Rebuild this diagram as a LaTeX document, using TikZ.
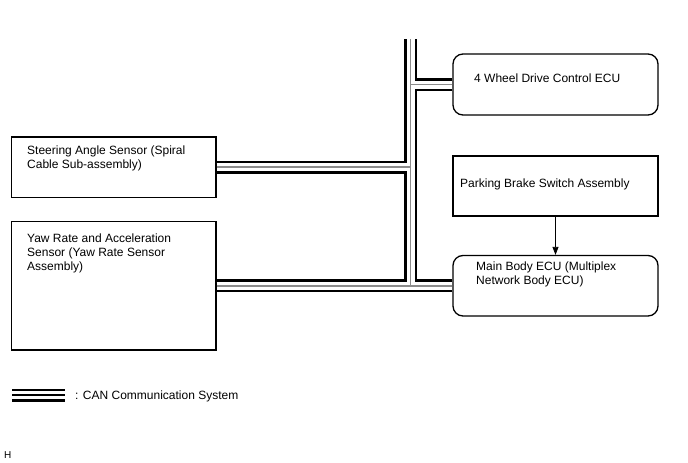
\documentclass[tikz,border=0pt]{standalone}
\usepackage{fontspec}
\setmainfont{Liberation Sans}
\usetikzlibrary{arrows.meta}
\begin{document}
\begin{tikzpicture}[x=1pt,y=-1pt,
  box/.style={draw=black,line width=1.3pt,inner sep=0pt,fill=none},
  rbox/.style={box,rounded corners=10pt},
  lbl/.style={inner sep=0pt,align=left,font=\fontsize{12}{14}\selectfont},
  busA/.style={line width=13pt,black},
  busB/.style={line width=8pt,white},
  busC/.style={line width=1.8pt,gray!90},
  arr/.style={line width=0.8pt,-{Triangle[length=8pt,width=6pt]}}]
\useasboundingbox[fill=white] (0,0) rectangle (688,463);
% boxes
\node[rbox,minimum width=205pt,minimum height=61pt] (fwd) at (555.5,84.5) {};
\node[box,minimum width=204.5pt,minimum height=60.5pt] (steer) at (113.75,167.25) {};
\node[box,minimum width=204.5pt,minimum height=128.5pt] (yaw) at (113.75,285.75) {};
\node[box,minimum width=205pt,minimum height=60pt] (park) at (555.5,186) {};
\node[rbox,minimum width=205pt,minimum height=60.5pt] (mb) at (555.5,285.75) {};
% labels
\node[lbl,anchor=base west] (fwdt) at (474,82.5) {4 Wheel Drive Control ECU};
\node[lbl,anchor=north west] (steert) at (27,145.5) {Steering Angle Sensor (Spiral\\Cable Sub-assembly)};
\node[lbl,anchor=north west] (yawt) at (27,233.5) {Yaw Rate and Acceleration\\Sensor (Yaw Rate Sensor\\Assembly)};
\node[lbl,anchor=base west] (parkt) at (460,187) {Parking Brake Switch Assembly};
\node[lbl,anchor=north west] (mbt) at (476,262) {Main Body ECU (Multiplex\\Network Body ECU)};
% bus
\coordinate (btop) at (410.5,39);
\foreach \s in {busA,busB,busC}{
  \draw[\s] (btop) -- (btop |- mb.west);
  \draw[\s] (steer.east) -- (steer.east -| btop);
  \draw[\s] (fwd.west) -- (fwd.west -| btop);
  \draw[\s] (yaw.east) -- (mb.west);
}
% arrow
\draw[arr] (park.south) -- (mb.north);
% legend
\coordinate (lga) at (12,395);
\coordinate (lgb) at (65,395);
\draw[busA] (lga) -- (lgb);
\draw[busB] (lga) -- (lgb);
\draw[line width=2pt,black] (lga) -- (lgb);
\node[lbl,anchor=base west] (lgt) at (75,399.3) {: CAN Communication System};
\node[inner sep=0pt,anchor=base west,font=\fontsize{10}{12}\selectfont] (hh) at (4,458.5) {H};
\end{tikzpicture}
\end{document}
